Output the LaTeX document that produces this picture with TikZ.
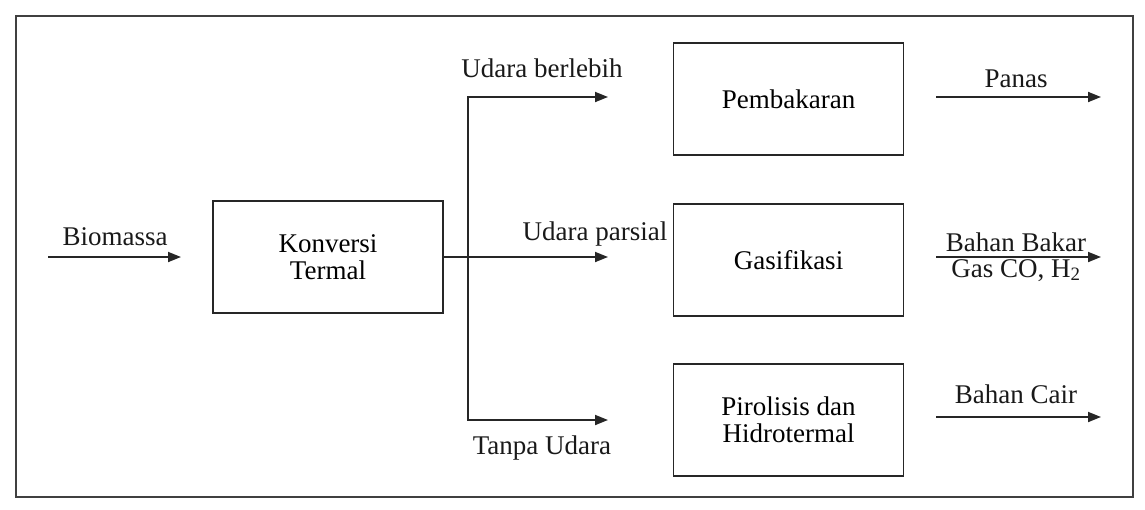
\documentclass[tikz,border=0pt]{standalone}
\usepackage{fontspec}
\setmainfont{Liberation Serif}
\usetikzlibrary{arrows.meta}
\newcommand\lblfont{\fontsize{27}{27}\selectfont}
\begin{document}
\begin{tikzpicture}[x=1pt,y=-1pt,
  box/.style={draw=black!85, line width=1.8pt, minimum width=230pt, minimum height=112pt, inner sep=0pt, align=center, font=\lblfont},
  lbl/.style={inner sep=0pt, font=\lblfont, anchor=base, text=black!90},
  arr/.style={draw=black!85, line width=1.8pt, -{Triangle[length=13pt,width=10pt]}},
  frame/.style={draw=black!75, line width=2pt}
]
\useasboundingbox (0,0) rectangle (1145,509);
\draw[frame] (16,16) rectangle (1133,497);

\node[box] (konv) at (328,257) {Konversi\\Termal};
\node[box] (pemb) at (788.5,99) {Pembakaran};
\node[box] (gasi) at (788.5,260) {Gasifikasi};
\node[box] (piro) at (788.5,420) {Pirolisis dan\\Hidrotermal};

\coordinate (bioS) at (48,257);
\coordinate (bioE) at (181,257);
\coordinate (split) at (468,257);
\coordinate (topT) at (608,97);
\coordinate (midT) at (608,257);
\coordinate (botT) at (608,420);
\coordinate (o1S) at (936,97);
\coordinate (o1E) at (1101,97);
\coordinate (o2S) at (936,257);
\coordinate (o2E) at (1101,257);
\coordinate (o3S) at (936,417);
\coordinate (o3E) at (1101,417);

\draw[arr] (bioS) -- (bioE);
\draw[arr] (konv.east) -- (midT);
\draw[arr] (split) |- (topT);
\draw[arr] (split) |- (botT);
\draw[arr] (o1S) -- (o1E);
\draw[arr] (o2S) -- (o2E);
\draw[arr] (o3S) -- (o3E);

\node[lbl] (lbio) at (115,245) {Biomassa};
\node[lbl] (lber) at (542,77) {Udara berlebih};
\node[lbl] (lpar) at (595,240) {Udara parsial};
\node[lbl] (ltan) at (542,454) {Tanpa Udara};
\node[lbl] (lpan) at (1016,87) {Panas};
\node[lbl] (lbb) at (1016,251) {Bahan Bakar};
\node[lbl] (lgas) at (1016,277) {Gas CO, H\textsubscript{2}};
\node[lbl] (lcair) at (1016,403) {Bahan Cair};
\end{tikzpicture}
\end{document}
